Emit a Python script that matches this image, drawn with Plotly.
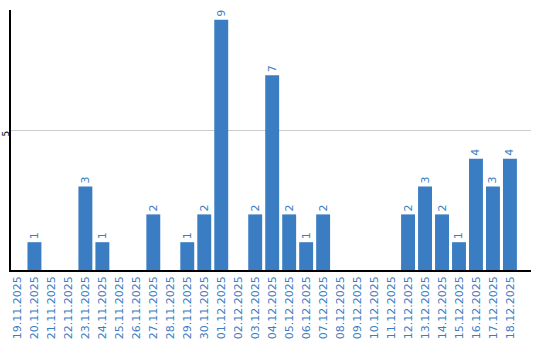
import plotly.graph_objects as go

dates = ["19.11.2025", "20.11.2025", "21.11.2025", "22.11.2025", "23.11.2025", "24.11.2025",
         "25.11.2025", "26.11.2025", "27.11.2025", "28.11.2025", "29.11.2025", "30.11.2025",
         "01.12.2025", "02.12.2025", "03.12.2025", "04.12.2025", "05.12.2025", "06.12.2025",
         "07.12.2025", "08.12.2025", "09.12.2025", "10.12.2025", "11.12.2025", "12.12.2025",
         "13.12.2025", "14.12.2025", "15.12.2025", "16.12.2025", "17.12.2025", "18.12.2025"]
counts = [0, 1, 0, 0, 3, 1, 0, 0, 2, 0, 1, 2, 9, 0, 2, 7, 2, 1, 2, 0, 0, 0, 0, 2, 3, 2, 1, 4, 3, 4]
y_ticks = [5]

idx = list(range(len(dates)))
labels = [str(v) if v else "" for v in counts]

blue = "#3b7dc3"

fig = go.Figure(go.Bar(
    x=idx, y=counts, text=labels, textposition="outside", textangle=-90,
    textfont=dict(family="DejaVu Sans", size=11, color=blue),
    marker=dict(color=blue, line=dict(width=0)), width=0.82, cliponaxis=False,
))

for t in y_ticks:
    fig.add_annotation(x=0, xref="paper", y=t, yref="y", text=str(t), textangle=-90,
                       showarrow=False, xanchor="center", yanchor="middle", xshift=-5.5, yshift=-3,
                       borderpad=0,
                       font=dict(family="DejaVu Sans", size=9, color="black"))

fig.update_layout(
    width=540, height=340, margin=dict(l=10.5, r=9, t=10, b=70),
    paper_bgcolor="white", plot_bgcolor="white", showlegend=False,
    xaxis=dict(range=[-0.38, 30.24], tickmode="array", tickvals=idx, ticktext=dates,
               tickangle=-90, tickfont=dict(family="DejaVu Sans", size=11, color=blue),
               showline=True, linecolor="black", linewidth=1.5, showgrid=False,
               ticks="", automargin=False, zeroline=False),
    yaxis=dict(range=[0, 9.35], tickmode="array", tickvals=y_ticks, showticklabels=False,
               showline=True, linecolor="black", linewidth=1.5, showgrid=True,
               gridcolor="#cccccc", gridwidth=1, ticks="", zeroline=False,
               automargin=False),
)

fig.write_html("out.html")
